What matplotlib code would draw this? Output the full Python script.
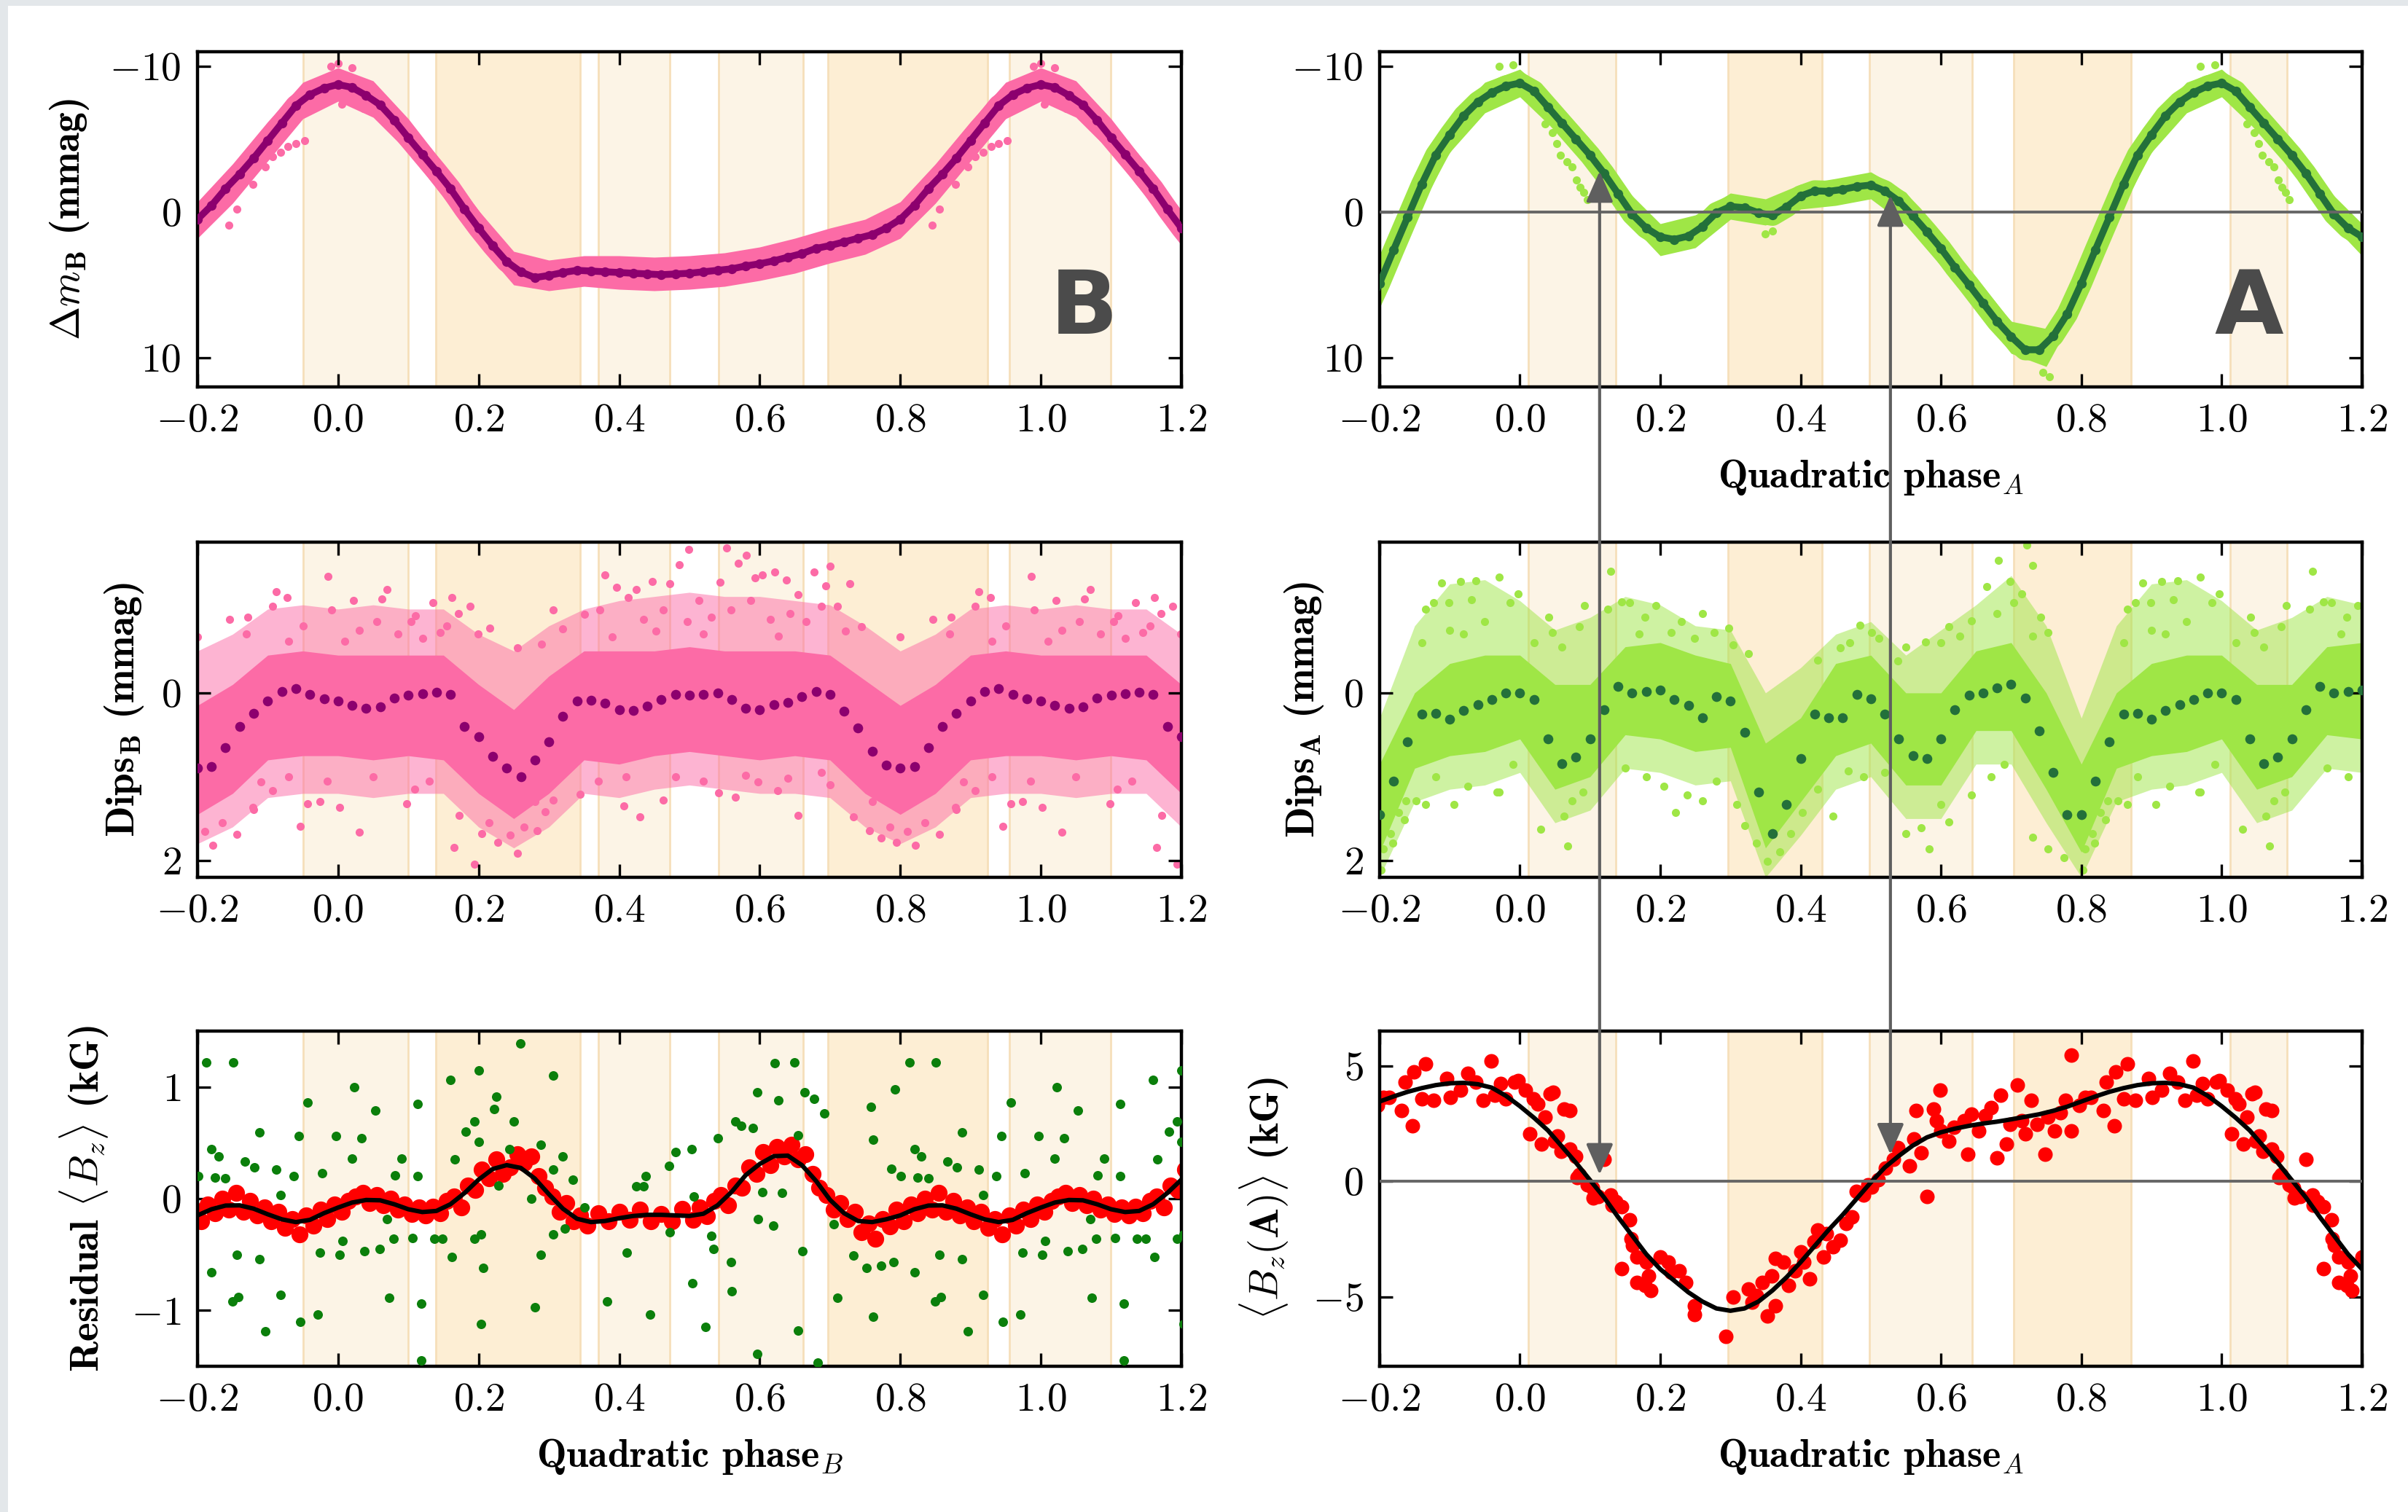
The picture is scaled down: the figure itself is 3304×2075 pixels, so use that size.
import numpy as np
import matplotlib.pyplot as plt
from matplotlib.patches import ConnectionPatch, Rectangle

plt.rcParams.update({
    'font.family': 'serif',
    'font.serif': ['cmr10'],
    'mathtext.fontset': 'cm',
    'axes.formatter.use_mathtext': True,
    'font.size': 20,
})

# one rotation cycle; the panels repeat it over -0.2 .. 1.2
phase_bins = np.arange(50) * 0.02
phase_env = np.arange(20) * 0.05

# ---- star B light curve (binned) and spread of the raw photometry
lc_b = [-8.75, -8.55, -8.0, -7.35, -6.3, -5.1, -3.95, -2.8, -1.6, -0.2,
        1.1, 2.3, 3.4, 4.1, 4.5, 4.35, 4.15, 4.0, 4.05, 4.1,
        4.15, 4.2, 4.25, 4.3, 4.25, 4.2, 4.1, 4.0, 3.9, 3.7,
        3.55, 3.35, 3.1, 2.85, 2.5, 2.3, 2.05, 1.8, 1.55, 1.1,
        0.5, -0.45, -1.6, -2.6, -3.7, -4.9, -6.1, -7.3, -8.05, -8.5]
lc_b_lo = [-9.9, -9.0, -6.4, -3.3, -0.1, 2.7, 3.3, 3.0, 3.0, 3.1,
           3.0, 2.8, 2.4, 1.8, 1.1, 0.5, -0.7, -3.3, -6.2, -8.9]
lc_b_hi = [-7.6, -6.5, -4.1, -1.0, 2.2, 5.0, 5.4, 5.1, 5.3, 5.4,
           5.3, 5.1, 4.7, 4.2, 3.5, 2.9, 1.8, -0.6, -3.5, -6.4]
lc_b_extra = [(0.879, -1.9), (0.896, -3.1), (0.907, -3.8), (0.918, -4.1),
              (0.929, -4.5), (0.940, -4.7), (0.952, -4.9), (0.856, -0.2),
              (0.845, 0.9), (0.005, -7.4), (0.036, -7.1), (0.958, -7.2),
              (0.0, -10.2), (0.99, -10.0), (0.02, -9.9)]

# ---- star A light curve
lc_a = [-8.85, -8.3, -7.2, -6.1, -5.0, -3.9, -2.65, -1.25, 0.15, 1.1,
        1.7, 1.88, 1.65, 1.0, 0.05, -0.38, -0.3, 0.05, 0.22, -0.35,
        -1.1, -1.45, -1.42, -1.55, -1.75, -1.85, -1.45, -0.75, 0.25, 1.35,
        2.5, 3.8, 5.0, 6.25, 7.5, 8.55, 9.45, 9.45, 8.5, 7.0,
        4.9, 2.6, 0.35, -1.9, -3.9, -5.3, -6.6, -7.55, -8.2, -8.65]
lc_a_lo = [-9.8, -7.7, -5.0, -1.6, 0.8, 0.2, -1.3, -0.9, -1.9, -2.3,
           -2.75, -1.35, 1.6, 4.5, 7.5, 8.0, 3.8, -2.0, -6.4, -8.9]
lc_a_hi = [-7.9, -5.6, -2.9, 0.45, 3.0, 2.45, 0.5, 0.9, -0.2, -0.45,
           -0.9, 0.9, 3.7, 6.7, 9.7, 10.6, 6.2, 0.4, -4.1, -6.8]
lc_a_extra = [(0.036, -6.05), (0.046, -5.46), (0.053, -4.71), (0.058, -3.88),
              (0.067, -3.46), (0.074, -3.12), (0.081, -2.2), (0.086, -1.7),
              (0.091, -1.37), (0.096, -0.87), (0.35, 1.5), (0.36, 1.3),
              (0.745, 11.0), (0.755, 11.3), (0.97, -10.0), (0.99, -10.1)]

# ---- dips left after removing the rotational signal
# dense core (lo/hi) and the thinner surrounding cloud (out_lo/out_hi)
dips_b = [0.10, 0.15, 0.18, 0.17, 0.06, 0.03, 0.01, -0.01, 0.02, 0.40,
          0.52, 0.76, 0.90, 1.00, 0.80, 0.58, 0.28, 0.10, 0.09, 0.12,
          0.20, 0.21, 0.16, 0.08, 0.02, 0.03, 0.02, 0.00, 0.08, 0.18,
          0.20, 0.14, 0.11, 0.04, -0.02, 0.02, 0.22, 0.42, 0.70, 0.86,
          0.90, 0.88, 0.65, 0.40, 0.24, 0.10, -0.02, -0.05, 0.02, 0.07]
dips_b_lo = [-0.45, -0.45, -0.45, -0.45, -0.1, 0.2, -0.2, -0.5, -0.5, -0.5,
             -0.55, -0.5, -0.5, -0.5, -0.45, -0.15, 0.15, -0.1, -0.45, -0.5]
dips_b_hi = [0.75, 0.8, 0.75, 0.8, 1.2, 1.5, 1.2, 0.8, 0.85, 0.75,
             0.7, 0.75, 0.8, 0.75, 0.8, 1.2, 1.45, 1.2, 0.8, 0.75]
dips_b_out_lo = [-1.0, -1.05, -1.0, -1.0, -0.7, -0.5, -0.8, -1.0, -1.1, -1.15,
                 -1.2, -1.15, -1.15, -1.1, -1.05, -0.8, -0.5, -0.7, -1.0, -1.05]
dips_b_out_hi = [1.2, 1.25, 1.2, 1.2, 1.6, 1.85, 1.6, 1.2, 1.25, 1.15,
                 1.1, 1.15, 1.2, 1.2, 1.25, 1.6, 1.8, 1.6, 1.25, 1.2]
dips_b_extra = [
    (0.986, -1.39), (0.912, -1.21), (0.907, -1.03), (0.022, -1.10), (0.991, -0.99),
    (0.070, -1.23), (0.062, -1.12), (0.104, -0.85), (0.135, -1.08), (0.162, -1.14),
    (0.188, -1.03), (0.171, -0.95), (0.199, -0.70), (0.216, -0.77), (0.255, -0.54),
    (0.290, -0.58), (0.320, -0.76), (0.351, -0.94), (0.380, -1.41), (0.396, -1.26),
    (0.424, -1.23), (0.447, -1.33), (0.472, -1.30), (0.486, -1.53), (0.499, -1.71),
    (0.514, -1.10), (0.544, -1.32), (0.553, -1.73), (0.570, -1.55), (0.581, -1.64),
    (0.593, -1.37), (0.604, -1.41), (0.621, -1.44), (0.638, -1.35), (0.655, -1.17),
    (0.677, -1.44), (0.700, -1.51), (0.694, -1.28), (0.728, -1.30), (0.711, -1.03),
    (0.745, -0.79), (0.800, -0.67), (0.846, -0.88), (0.872, -0.90), (0.928, -1.14),
    (0.110, -0.92), (0.155, -0.80), (0.306, -0.99), (0.373, -0.99), (0.413, -1.14),
    (0.435, -0.88), (0.463, -0.99), (0.497, -0.85), (0.531, -0.90), (0.559, -0.99),
    (0.587, -1.10), (0.615, -0.88), (0.643, -0.95), (0.666, -0.85), (0.688, -1.03),
    (0.722, -0.74), (0.627, -0.68), (0.520, -0.70), (0.452, -0.74), (0.390, -0.67),
    (0.030, -0.75), (0.085, -0.70), (0.120, -0.65), (0.950, -0.80), (0.870, -0.70),
    (0.930, -0.62), (0.010, -0.62), (0.055, -0.85), (0.145, -0.72),
    (0.946, 1.59), (0.957, 1.32), (0.974, 1.30), (0.002, 1.37), (0.030, 1.66),
    (0.098, 1.32), (0.109, 1.15), (0.890, 1.06), (0.907, 1.17), (0.879, 1.37),
    (0.856, 1.69), (0.822, 1.82), (0.165, 1.84), (0.194, 2.04), (0.205, 1.68),
    (0.227, 1.78), (0.255, 1.91), (0.283, 1.64), (0.295, 1.42), (0.306, 1.28),
    (0.345, 1.21), (0.407, 1.35), (0.430, 1.48), (0.463, 1.28), (0.410, 1.00),
    (0.542, 1.19), (0.565, 1.24), (0.598, 1.06), (0.626, 1.17), (0.655, 1.46),
    (0.688, 0.95), (0.733, 1.48), (0.756, 1.64), (0.773, 1.73), (0.795, 1.78),
    (0.880, 1.39), (0.172, 1.46), (0.050, 1.00), (0.130, 1.05), (0.370, 1.05),
    (0.480, 1.00), (0.520, 1.05), (0.580, 0.98), (0.640, 1.02), (0.700, 1.10),
    (0.930, 1.00), (0.985, 1.05), (0.215, 1.55), (0.245, 1.70), (0.265, 1.60),
    (0.785, 1.60), (0.810, 1.65), (0.835, 1.55), (0.760, 1.30), (0.280, 1.30)]

dips_a = [0.00, 0.08, 0.55, 0.84, 0.77, 0.55, 0.20, -0.08, 0.00, -0.02,
          -0.03, 0.08, 0.15, 0.30, 0.04, 0.10, 0.47, 1.18, 1.68, 1.33,
          0.78, 0.25, 0.30, 0.30, 0.02, 0.07, 0.25, 0.55, 0.75, 0.78,
          0.55, 0.20, 0.03, 0.00, -0.06, -0.10, 0.06, 0.45, 0.95, 1.45,
          1.45, 1.05, 0.58, 0.25, 0.24, 0.31, 0.21, 0.14, 0.08, 0.00]
dips_a_lo = [-0.45, -0.1, -0.1, -0.55, -0.6, -0.45, -0.35, 0.6, 0.3, -0.35,
             -0.45, 0.0, 0.0, -0.5, -0.6, 0.0, 0.85, 0.0, -0.35, -0.45]
dips_a_hi = [0.55, 1.15, 1.0, 0.5, 0.55, 0.7, 0.65, 1.85, 1.3, 0.75,
             0.6, 1.1, 1.1, 0.45, 0.45, 1.15, 1.9, 0.9, 0.75, 0.7]
dips_a_out_lo = [-1.1, -0.75, -0.9, -1.15, -1.05, -0.8, -0.75, 0.0, -0.3, -0.7,
                 -0.85, -0.45, -0.75, -1.05, -1.4, -0.8, 0.3, -0.8, -1.3, -1.35]
dips_a_out_hi = [0.95, 1.55, 1.4, 0.9, 0.95, 1.1, 1.05, 2.2, 1.7, 1.15,
                 1.0, 1.5, 1.5, 0.85, 0.85, 1.55, 2.2, 1.3, 1.15, 1.1]
dips_a_extra = [
    (0.888, -1.31), (0.915, -1.33), (0.937, -1.34), (0.970, -1.38), (0.877, -1.08),
    (0.866, -1.00), (0.899, -1.08), (0.931, -1.11), (0.997, -1.18), (0.986, -1.08),
    (0.041, -0.90), (0.092, -1.04), (0.085, -0.79), (0.046, -0.72), (0.129, -1.45),
    (0.125, -1.00), (0.145, -1.09), (0.156, -1.08), (0.178, -0.90), (0.194, -1.04),
    (0.216, -0.72), (0.249, -0.65), (0.277, -0.72), (0.298, -0.77), (0.304, -0.57),
    (0.326, -0.47), (0.424, -0.39), (0.457, -0.54), (0.485, -0.81), (0.501, -0.72),
    (0.512, -0.65), (0.539, -0.38), (0.578, -0.61), (0.611, -0.79), (0.627, -0.68),
    (0.643, -0.86), (0.665, -1.27), (0.682, -1.58), (0.698, -1.33), (0.704, -1.08),
    (0.731, -1.52), (0.722, -1.76), (0.715, -1.18), (0.742, -0.90), (0.731, -0.68),
    (0.753, -0.72), (0.900, -0.75), (0.950, -0.85), (0.020, -0.60), (0.060, -0.55),
    (0.170, -0.70), (0.230, -0.85), (0.260, -0.95), (0.470, -0.60), (0.550, -0.55),
    (0.600, -0.60), (0.680, -0.95), (0.860, -0.60), (0.920, -0.70),
    (0.805, 1.86), (0.816, 1.68), (0.827, 1.43), (0.838, 1.29), (0.866, 1.33),
    (0.926, 1.11), (0.970, 1.18), (0.030, 1.63), (0.063, 1.47), (0.074, 1.29),
    (0.068, 1.83), (0.090, 1.18), (0.205, 1.11), (0.238, 1.22), (0.260, 1.29),
    (0.222, 1.43), (0.309, 1.33), (0.320, 1.58), (0.337, 1.79), (0.353, 2.01),
    (0.370, 1.90), (0.386, 1.68), (0.402, 1.43), (0.424, 1.15), (0.446, 1.47),
    (0.468, 0.93), (0.550, 1.68), (0.572, 1.61), (0.583, 1.86), (0.600, 1.33),
    (0.611, 1.54), (0.643, 1.22), (0.671, 1.00), (0.731, 1.72), (0.753, 1.86),
    (0.775, 1.97), (0.802, 2.11), (0.819, 1.79), (0.835, 1.51), (0.852, 1.29),
    (0.906, 1.33), (0.967, 1.18), (0.150, 0.90), (0.180, 1.00), (0.280, 1.05),
    (0.490, 1.00), (0.520, 0.95), (0.690, 0.85), (0.880, 1.00), (0.990, 0.85)]

# ---- residual longitudinal field of B: model, measurements (red) and raw (green)
resid_fit = [-0.08, -0.035, -0.012, -0.015, -0.05, -0.095, -0.12, -0.11, -0.05, 0.05,
             0.17, 0.265, 0.30, 0.275, 0.18, 0.04, -0.09, -0.18, -0.21, -0.20,
             -0.175, -0.155, -0.145, -0.145, -0.15, -0.155, -0.135, -0.06, 0.06, 0.21,
             0.31, 0.38, 0.385, 0.30, 0.16, -0.01, -0.13, -0.20, -0.21, -0.185,
             -0.15, -0.095, -0.062, -0.06, -0.09, -0.14, -0.185, -0.21, -0.19, -0.13]
resid_red = [
    (0.005, -0.12), (0.015, -0.02), (0.025, 0.02), (0.035, 0.05), (0.045, -0.04),
    (0.055, 0.03), (0.065, -0.06), (0.075, 0.0), (0.085, -0.10), (0.095, -0.05),
    (0.105, -0.14), (0.115, -0.08), (0.125, -0.15), (0.135, -0.07), (0.145, -0.13),
    (0.155, -0.02), (0.165, 0.02), (0.175, -0.08), (0.185, 0.12), (0.195, 0.08),
    (0.205, 0.26), (0.215, 0.18), (0.225, 0.35), (0.235, 0.22), (0.245, 0.28),
    (0.255, 0.40), (0.265, 0.32), (0.275, 0.38), (0.285, 0.20), (0.295, 0.10),
    (0.305, 0.02), (0.315, -0.12), (0.325, -0.04), (0.335, -0.20), (0.345, -0.15),
    (0.355, -0.24), (0.370, -0.13), (0.385, -0.20), (0.400, -0.12), (0.415, -0.19),
    (0.430, -0.10), (0.445, -0.20), (0.460, -0.14), (0.475, -0.20), (0.490, -0.09),
    (0.505, -0.19), (0.515, -0.08), (0.525, -0.16), (0.535, -0.02), (0.545, 0.03),
    (0.555, -0.06), (0.565, 0.12), (0.575, 0.10), (0.585, 0.28), (0.595, 0.22),
    (0.605, 0.42), (0.615, 0.30), (0.625, 0.46), (0.635, 0.38), (0.645, 0.48),
    (0.655, 0.35), (0.665, 0.40), (0.675, 0.22), (0.685, 0.10), (0.695, 0.03),
    (0.705, -0.10), (0.715, -0.04), (0.725, -0.18), (0.735, -0.12), (0.745, -0.30),
    (0.755, -0.22), (0.765, -0.36), (0.775, -0.18), (0.785, -0.25), (0.795, -0.10),
    (0.805, -0.20), (0.815, -0.05), (0.825, -0.13), (0.835, 0.00), (0.845, -0.10),
    (0.855, 0.05), (0.865, -0.12), (0.875, -0.02), (0.885, -0.15), (0.895, -0.08),
    (0.905, -0.20), (0.915, -0.12), (0.925, -0.26), (0.935, -0.18), (0.945, -0.32),
    (0.955, -0.15), (0.965, -0.24), (0.975, -0.10), (0.985, -0.18), (0.995, -0.05)]
resid_green = [
    (0.813, 1.22), (0.851, 1.22), (0.820, 0.44), (0.830, 0.38), (0.825, 0.19),
    (0.840, 0.18), (0.867, 0.33), (0.881, 0.28), (0.888, 0.59), (0.912, 0.26),
    (0.918, 0.03), (0.937, 0.20), (0.944, 0.56), (0.957, 0.86), (0.977, 0.23),
    (0.997, 0.56), (0.023, 1.00), (0.020, 0.36), (0.033, 0.54), (0.053, 0.79),
    (0.070, -0.18), (0.081, 0.21), (0.090, 0.36), (0.113, 0.85), (0.113, 0.20),
    (0.160, 1.06), (0.166, 0.35), (0.182, 0.60), (0.194, 0.69), (0.200, 1.15),
    (0.200, 0.51), (0.222, 0.80), (0.225, 0.91), (0.228, 0.12), (0.250, 0.69),
    (0.244, 0.44), (0.259, 1.39), (0.275, 0.00), (0.289, 0.48), (0.306, 1.10),
    (0.320, 0.38), (0.306, 0.26), (0.334, 0.17), (0.351, -0.08), (0.424, 0.11),
    (0.435, 0.11), (0.438, 0.20), (0.471, 0.29), (0.480, 0.42), (0.503, 0.44),
    (0.506, 0.02), (0.540, 0.54), (0.565, 0.69), (0.574, 0.65), (0.590, 0.63),
    (0.596, 0.95), (0.627, 0.88), (0.621, 1.21), (0.649, 1.22), (0.664, 0.95),
    (0.677, 0.89), (0.692, 0.76), (0.655, 0.57), (0.604, 0.06), (0.632, 0.05),
    (0.758, 0.82), (0.761, 0.53), (0.792, 0.98), (0.787, 0.27), (0.801, 0.20),
    (0.820, -0.66), (0.856, -0.50), (0.858, -0.88), (0.850, -0.92), (0.888, -0.54),
    (0.896, -1.19), (0.918, -0.86), (0.946, -1.10), (0.974, -0.48), (0.971, -1.04),
    (0.006, -0.38), (0.002, -0.50), (0.038, -0.47), (0.059, -0.45), (0.079, -0.36),
    (0.073, -0.89), (0.106, -0.35), (0.118, -0.94), (0.118, -1.45), (0.137, -0.36),
    (0.149, -0.36), (0.162, -0.52), (0.194, -0.36), (0.203, -0.32), (0.207, -0.62),
    (0.203, -1.12), (0.280, -0.97), (0.288, -0.50), (0.306, -0.32), (0.323, -0.27),
    (0.383, -0.92), (0.411, -0.48), (0.444, -1.04), (0.472, -0.30), (0.504, -0.76),
    (0.523, -1.15), (0.531, -0.33), (0.534, -0.45), (0.559, -0.57), (0.560, -0.83),
    (0.598, -0.18), (0.619, -0.24), (0.596, -1.39), (0.655, -1.18), (0.661, -0.47),
    (0.683, -1.47), (0.705, -0.23), (0.711, -0.89), (0.733, -0.51), (0.752, -0.62),
    (0.761, -1.06), (0.773, -0.60), (0.790, -0.57)]

# ---- longitudinal field of A: model and measurements
bz_a_fit = [3.25, 2.75, 2.2, 1.5, 0.8, 0.05, -0.7, -1.55, -2.35, -3.15,
            -3.8, -4.3, -4.8, -5.2, -5.5, -5.6, -5.5, -5.2, -4.72, -4.15,
            -3.5, -2.8, -2.1, -1.45, -0.75, -0.05, 0.6, 1.1, 1.55, 1.9,
            2.12, 2.28, 2.4, 2.5, 2.58, 2.68, 2.79, 2.9, 3.05, 3.23,
            3.45, 3.67, 3.87, 4.03, 4.16, 4.24, 4.26, 4.2, 4.05, 3.7]
bz_a_obs = [
    (0.805, 3.64), (0.814, 3.64), (0.831, 3.06), (0.836, 4.29), (0.849, 4.73),
    (0.847, 2.40), (0.866, 5.09), (0.860, 3.57), (0.877, 3.49), (0.896, 4.44),
    (0.901, 3.64), (0.915, 3.93), (0.926, 4.66), (0.937, 4.29), (0.948, 3.49),
    (0.959, 5.21), (0.964, 3.71), (0.973, 4.22), (0.980, 3.57), (0.992, 4.29),
    (0.997, 4.37), (0.008, 3.93), (0.019, 3.57), (0.025, 3.35), (0.047, 3.86),
    (0.014, 2.04), (0.031, 1.60), (0.036, 2.77), (0.054, 1.97), (0.063, 3.13),
    (0.071, 3.06), (0.071, 1.38), (0.059, 1.31), (0.079, 1.09), (0.085, 0.29),
    (0.096, -0.15), (0.103, -0.29), (0.112, -0.66), (0.120, 0.95), (0.129, -0.58),
    (0.137, -0.87), (0.145, -1.09), (0.156, -1.67), (0.145, -3.78), (0.161, -2.77),
    (0.167, -3.28), (0.167, -4.37), (0.178, -4.51), (0.183, -4.08), (0.186, -4.73),
    (0.200, -3.28), (0.211, -3.49), (0.216, -3.93), (0.227, -3.86), (0.236, -4.37),
    (0.249, -5.39), (0.249, -5.75), (0.293, -6.70), (0.304, -5.02), (0.326, -4.66),
    (0.331, -5.24), (0.337, -4.95), (0.345, -4.37), (0.353, -5.82), (0.364, -5.39),
    (0.359, -4.08), (0.364, -3.35), (0.375, -3.49), (0.383, -4.51), (0.392, -3.86),
    (0.400, -3.06), (0.405, -3.49), (0.413, -4.22), (0.419, -2.62), (0.424, -2.11),
    (0.433, -3.28), (0.437, -2.26), (0.446, -2.84), (0.457, -2.55), (0.465, -1.82),
    (0.473, -1.53), (0.479, -0.44), (0.490, -0.58), (0.496, -0.15), (0.501, -0.26),
    (0.510, 0.07), (0.521, 0.58), (0.532, 0.95), (0.539, 1.46), (0.555, 0.66),
    (0.561, 1.82), (0.565, 3.06), (0.572, 1.24), (0.580, -0.66), (0.589, 3.13),
    (0.594, 2.62), (0.599, 3.93), (0.600, 2.18), (0.611, 1.75), (0.619, 2.33),
    (0.633, 2.62), (0.638, 1.16), (0.643, 2.91), (0.654, 2.18), (0.663, 2.84),
    (0.671, 3.20), (0.680, 1.02), (0.685, 3.71), (0.693, 1.60), (0.698, 2.47),
    (0.709, 4.15), (0.715, 2.62), (0.720, 2.04), (0.729, 3.49), (0.737, 2.47),
    (0.748, 1.16), (0.753, 2.77), (0.762, 2.18), (0.770, 2.98), (0.777, 3.49),
    (0.786, 5.46), (0.786, 2.18), (0.797, 3.28), (0.043, 3.78), (0.049, 1.75),
    (0.082, 0.15), (0.104, -0.73), (0.131, -1.02), (0.158, -2.47), (0.180, -3.49)]

# shaded phase intervals (start, end, shade)
bands_b = [(-0.05, 0.10, 0), (0.139, 0.344, 1), (0.370, 0.472, 0), (0.542, 0.662, 0),
           (0.697, 0.924, 1), (0.955, 1.099, 0)]
bands_a = [(0.012, 0.137, 0), (0.297, 0.431, 1), (0.498, 0.644, 0), (0.704, 0.871, 1),
           (1.012, 1.093, 0)]

# arrows linking field zero crossings to features of the light curve of A
arrow_phase = [0.1136, 0.528]
arrow_lc = [-2.8, -1.15]
arrow_bz = [0.29, 1.16]

pink, purple = '#fc6ba6', '#8c006e'
lime, forest = '#9fe646', '#23703a'
band_face = ['#fcf4e6', '#fdeed4']
band_edge = '#f6dfba'
grey = '#666666'


def tile(ph, *vals, lo=-0.26, hi=1.26):
    ph = np.asarray(ph, float)
    allph = np.concatenate([ph - 1, ph, ph + 1])
    keep = (allph >= lo) & (allph <= hi)
    return [allph[keep]] + [np.tile(np.asarray(v, float), 3)[keep] for v in vals]


def pairs(lst):
    arr = np.array(lst, float)
    return tile(arr[:, 0], arr[:, 1])


def style(ax, bands):
    ax.set_xlim(-0.2, 1.2)
    ax.set_xticks([-0.2, 0.0, 0.2, 0.4, 0.6, 0.8, 1.0, 1.2])
    ax.tick_params(direction='in', top=True, right=True, length=6.5, width=1.2,
                   pad=8, labelsize=20)
    for s in ax.spines.values():
        s.set_linewidth(1.6)
    for x0, x1, shade in bands:
        ax.axvspan(x0, x1, facecolor=band_face[shade], edgecolor=band_edge,
                   lw=1.0, zorder=0)


def light_curve(ax, mean, lo, hi, extra, c_light, c_dark):
    p, m = tile(phase_bins, mean)
    pe, l, h = tile(phase_env, lo, hi)
    ax.fill_between(pe, l, h, color=c_light, lw=0, zorder=1)
    px, vx = pairs(extra)
    ax.scatter(px, vx, s=16, color=c_light, lw=0, zorder=1.5)
    ax.plot(p, m, color=c_light, lw=10.5, solid_capstyle='round', zorder=2)
    ax.plot(p, m, color=c_dark, lw=3.4, marker='o', ms=4.8, mew=0, zorder=3)
    ax.set_ylim(12, -11)
    ax.set_yticks([-10, 0, 10])


def dips(ax, mean, lo, hi, out_lo, out_hi, extra, c_light, c_dark):
    pe, l, h, ol, oh = tile(phase_env, lo, hi, out_lo, out_hi)
    ax.fill_between(pe, ol, oh, color=c_light, alpha=0.5, lw=0, zorder=1)
    ax.fill_between(pe, l, h, color=c_light, lw=0, zorder=1.2)
    px, vx = pairs(extra)
    ax.scatter(px, vx, s=16, color=c_light, lw=0, zorder=1.5)
    p, m = tile(phase_bins, mean)
    ax.scatter(p, m, s=24, color=c_dark, lw=0, zorder=3)
    ax.set_ylim(2.2, -1.8)
    ax.set_yticks([0, 2])


fig = plt.figure(figsize=(16.52, 10.375), dpi=200)
fig.patch.set_facecolor('#e3e7ea')
fig.add_artist(Rectangle((11 / 3304, 0), 1, 1 - 8 / 2075, transform=fig.transFigure,
                         facecolor='white', edgecolor='none', zorder=-5))

lefts = [0.0820, 0.5729]
widths = [0.4086, 0.4080]
bottoms = [0.7441, 0.4198, 0.0964]
height = 0.2217
axs = [[fig.add_axes([lefts[c], bottoms[r], widths[c], height]) for c in range(2)]
       for r in range(3)]
for r in range(3):
    style(axs[r][0], bands_b)
    style(axs[r][1], bands_a)

ylab = dict(family='cmb10', fontsize=20)
xlab = dict(family='cmb10', fontsize=19.5, va='top')

# top row: light curves
ax = axs[0][0]
light_curve(ax, lc_b, lc_b_lo, lc_b_hi, lc_b_extra, pink, purple)
ax.set_ylabel(r'$\mathbf{\Delta}m_\mathbf{B}$ (mmag)', **ylab)
ax.yaxis.set_label_coords(-0.108, 0.5)
ax.text(0.901, 0.232, 'B', transform=ax.transAxes, ha='center', va='center',
        fontsize=44, fontweight='bold', family='DejaVu Sans', color='#4b4b4b', zorder=6)

ax = axs[0][1]
light_curve(ax, lc_a, lc_a_lo, lc_a_hi, lc_a_extra, lime, forest)
ax.axhline(0, color=grey, lw=1.4, zorder=5)
ax.set_xlabel(r'Quadratic phase$_A$', **xlab)
ax.xaxis.set_label_coords(0.5, -0.211)
ax.text(0.885, 0.232, 'A', transform=ax.transAxes, ha='center', va='center',
        fontsize=44, fontweight='bold', family='DejaVu Sans', color='#4b4b4b', zorder=6)

# middle row: dips
ax = axs[1][0]
dips(ax, dips_b, dips_b_lo, dips_b_hi, dips_b_out_lo, dips_b_out_hi, dips_b_extra,
     pink, purple)
ax.set_ylabel(r'Dips$_\mathbf{B}$ (mmag)', **ylab)
ax.yaxis.set_label_coords(-0.0526, 0.5)

ax = axs[1][1]
dips(ax, dips_a, dips_a_lo, dips_a_hi, dips_a_out_lo, dips_a_out_hi, dips_a_extra,
     lime, forest)
ax.set_ylabel(r'Dips$_\mathbf{A}$ (mmag)', **ylab)
ax.yaxis.set_label_coords(-0.055, 0.5)

# bottom row: magnetic field
ax = axs[2][0]
pg, vg = pairs(resid_green)
ax.scatter(pg, vg, s=22, color='#0b7f0b', lw=0, zorder=3)
pr, vr = pairs(resid_red)
ax.scatter(pr, vr, s=70, color='red', lw=0, zorder=2)
p, m = tile(phase_bins, resid_fit)
ax.plot(p, m, color='black', lw=2.2, zorder=4)
ax.set_ylim(-1.5, 1.5)
ax.set_yticks([-1, 0, 1])
ax.set_ylabel(r'Residual $\langle B_z\rangle$ (kG)', **ylab)
ax.yaxis.set_label_coords(-0.088, 0.5)
ax.set_xlabel(r'Quadratic phase$_B$', **xlab)
ax.xaxis.set_label_coords(0.5, -0.211)

ax = axs[2][1]
pr, vr = pairs(bz_a_obs)
ax.scatter(pr, vr, s=52, color='red', lw=0, zorder=2)
p, m = tile(phase_bins, bz_a_fit)
ax.plot(p, m, color='black', lw=2.2, zorder=3)
ax.axhline(0, color=grey, lw=1.4, zorder=5)
ax.set_ylim(-8, 6.5)
ax.set_yticks([-5, 0, 5])
ax.set_ylabel(r'$\langle B_z(\mathbf{A})\rangle$ (kG)', **ylab)
ax.yaxis.set_label_coords(-0.0905, 0.5)
ax.set_xlabel(r'Quadratic phase$_A$', **xlab)
ax.xaxis.set_label_coords(0.5, -0.211)

for ph, y_top, y_bot in zip(arrow_phase, arrow_lc, arrow_bz):
    con = ConnectionPatch(xyA=(ph, y_top), coordsA=axs[0][1].transData,
                          xyB=(ph, y_bot), coordsB=axs[2][1].transData,
                          arrowstyle='<|-|>,head_length=0.5,head_width=0.22',
                          mutation_scale=26, color='#5f5f5f', lw=1.5,
                          shrinkA=0, shrinkB=0, zorder=10)
    fig.add_artist(con)

fig.savefig('out.png', dpi=200, facecolor=fig.get_facecolor())
